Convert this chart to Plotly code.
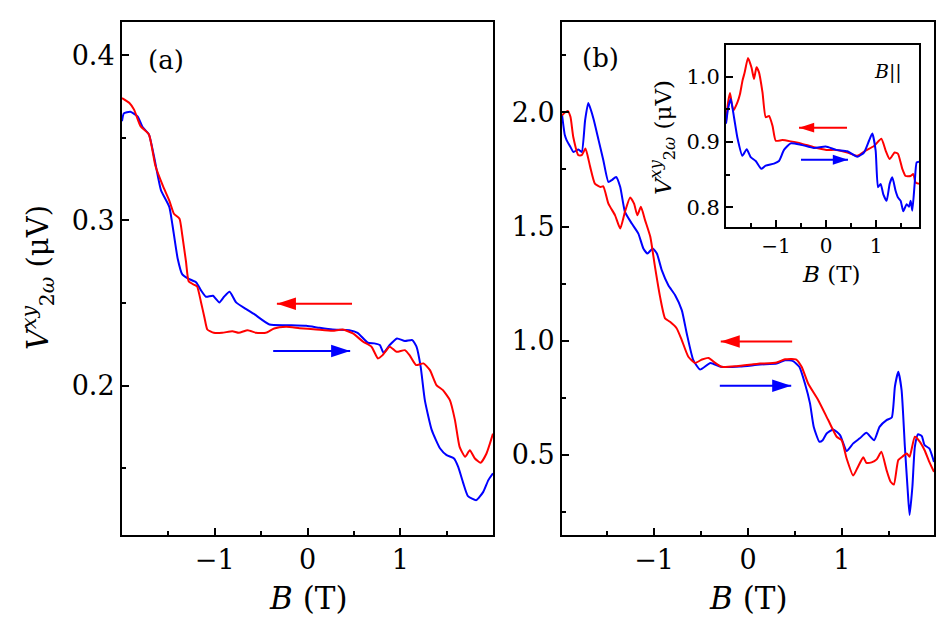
import plotly.graph_objects as go

# ---------------- data ----------------
# Panel (a)
a_red_B = [-2.0, -1.92, -1.87, -1.80, -1.71, -1.64, -1.56, -1.49, -1.44, -1.38, -1.35, -1.31, -1.28,
           -1.22, -1.19, -1.15, -1.11, -1.08, -1.01, -0.92, -0.81, -0.74, -0.645, -0.555, -0.45, -0.36,
           -0.23, -0.086, 0.094, 0.27, 0.38, 0.49, 0.60, 0.69, 0.76, 0.81, 0.886, 0.96, 1.05, 1.10,
           1.17, 1.25, 1.32, 1.39, 1.46, 1.535, 1.59, 1.64, 1.70, 1.75, 1.805, 1.867, 1.93, 2.0]
a_red_V = [0.374, 0.371, 0.367, 0.357, 0.352, 0.333, 0.321, 0.312, 0.304, 0.301, 0.291, 0.275, 0.263,
           0.261, 0.260, 0.251, 0.241, 0.234, 0.232, 0.232, 0.233, 0.232, 0.2336, 0.232, 0.232, 0.2346,
           0.2356, 0.2348, 0.234, 0.2332, 0.234, 0.2316, 0.2266, 0.2236, 0.2165, 0.2185, 0.2236, 0.2205,
           0.2215, 0.2185, 0.2125, 0.2135, 0.2094, 0.2004, 0.1973, 0.1913, 0.1792, 0.163, 0.157, 0.161,
           0.156, 0.1534, 0.159, 0.171]
a_blue_B = [-2.0, -1.98, -1.91, -1.83, -1.78, -1.71, -1.654, -1.58, -1.49, -1.456, -1.40, -1.35, -1.29,
            -1.20, -1.15, -1.095, -1.02, -0.95, -0.90, -0.84, -0.77, -0.66, -0.57, -0.41, -0.23, -0.014,
            0.13, 0.27, 0.45, 0.54, 0.65, 0.72, 0.78, 0.82, 0.886, 0.965, 1.05, 1.13, 1.175, 1.22, 1.265,
            1.34, 1.43, 1.50, 1.58, 1.625, 1.68, 1.73, 1.82, 1.895, 1.95, 2.0]
a_blue_V = [0.360, 0.3647, 0.3657, 0.3627, 0.3566, 0.352, 0.3385, 0.3183, 0.3082, 0.2972, 0.277, 0.2673,
            0.2649, 0.2625, 0.2578, 0.2538, 0.2544, 0.2504, 0.2538, 0.2568, 0.2504, 0.2463, 0.2431, 0.237,
            0.2366, 0.2362, 0.235, 0.234, 0.2336, 0.232, 0.226, 0.2256, 0.2246, 0.2199, 0.2246, 0.2286,
            0.227, 0.2276, 0.2236, 0.2115, 0.1913, 0.1731, 0.162, 0.158, 0.156, 0.1509, 0.1409, 0.1332,
            0.1308, 0.1358, 0.1429, 0.147]

# Panel (b)
b_red_B = [-1.98, -1.92, -1.89, -1.86, -1.805, -1.77, -1.73, -1.68, -1.63, -1.57, -1.54, -1.486, -1.415,
           -1.36, -1.31, -1.255, -1.213, -1.178, -1.14, -1.096, -1.04, -0.99, -0.936, -0.883, -0.83,
           -0.76, -0.705, -0.635, -0.564, -0.49, -0.42, -0.35, -0.28, -0.12, 0.056, 0.128, 0.305, 0.394,
           0.51, 0.571, 0.64, 0.748, 0.854, 0.944, 0.997, 1.05, 1.12, 1.17, 1.227, 1.26, 1.316, 1.37,
           1.42, 1.475, 1.518, 1.553, 1.60, 1.65, 1.69, 1.72, 1.776, 1.83, 1.88, 1.93, 1.98]
b_red_V = [1.987, 2.006, 1.98, 1.892, 1.812, 1.812, 1.841, 1.761, 1.688, 1.673, 1.676, 1.60, 1.549, 1.491,
           1.564, 1.627, 1.60, 1.549, 1.586, 1.528, 1.455, 1.323, 1.192, 1.098, 1.083, 1.055, 1.003, 0.93,
           0.903, 0.918, 0.925, 0.903, 0.886, 0.889, 0.897, 0.90, 0.905, 0.919, 0.919, 0.886, 0.813, 0.74,
           0.653, 0.58, 0.565, 0.485, 0.41, 0.448, 0.49, 0.466, 0.468, 0.481, 0.514, 0.434, 0.383, 0.371,
           0.478, 0.495, 0.507, 0.492, 0.58, 0.558, 0.521, 0.47, 0.426]
b_blue_B = [-1.98, -1.95, -1.93, -1.89, -1.858, -1.805, -1.77, -1.734, -1.70, -1.645, -1.59, -1.54, -1.486,
            -1.45, -1.404, -1.36, -1.31, -1.237, -1.167, -1.114, -1.07, -1.014, -0.97, -0.918, -0.848,
            -0.777, -0.705, -0.652, -0.582, -0.51, -0.40, -0.29, -0.085, 0.128, 0.305, 0.394, 0.48, 0.546,
            0.606, 0.66, 0.70, 0.76, 0.795, 0.837, 0.907, 0.98, 1.05, 1.12, 1.19, 1.26, 1.343, 1.40,
            1.475, 1.53, 1.564, 1.60, 1.635, 1.67, 1.70, 1.72, 1.75, 1.776, 1.81, 1.85, 1.88, 1.93, 1.98]
b_blue_V = [1.99, 1.90, 1.877, 1.848, 1.826, 1.837, 1.826, 1.965, 2.04, 1.972, 1.877, 1.79, 1.695, 1.703,
            1.717, 1.673, 1.564, 1.513, 1.469, 1.404, 1.382, 1.404, 1.382, 1.309, 1.243, 1.20, 1.134, 1.032,
            0.915, 0.874, 0.903, 0.886, 0.887, 0.896, 0.90, 0.915, 0.911, 0.886, 0.813, 0.726, 0.623, 0.558,
            0.565, 0.594, 0.612, 0.587, 0.518, 0.551, 0.573, 0.597, 0.565, 0.623, 0.653, 0.664, 0.80, 0.864,
            0.784, 0.536, 0.346, 0.237, 0.361, 0.536, 0.591, 0.583, 0.543, 0.529, 0.47]

# Inset (B parallel)
i_red_B = [-2.0, -1.96, -1.92, -1.853, -1.77, -1.72, -1.67, -1.626, -1.56, -1.49, -1.44, -1.39, -1.34,
           -1.27, -1.206, -1.14, -1.07, -1.006, -0.873, -0.706, -0.506, -0.24, 0.006, 0.206, 0.426, 0.626,
           0.793, 0.96, 1.107, 1.193, 1.273, 1.373, 1.44, 1.526, 1.593, 1.693, 1.746, 1.793, 1.86]
i_red_V = [0.93, 0.96, 0.975, 0.948, 0.961, 0.9735, 0.994, 1.0067, 1.0286, 1.014, 0.9965, 1.0144, 1.0067,
           0.976, 0.938, 0.940, 0.925, 0.902, 0.903, 0.901, 0.898, 0.892, 0.888, 0.888, 0.884, 0.879,
           0.887, 0.894, 0.905, 0.887, 0.874, 0.884, 0.882, 0.859, 0.848, 0.848, 0.851, 0.838, 0.836]
i_blue_B = [-2.0, -1.96, -1.906, -1.84, -1.773, -1.673, -1.586, -1.506, -1.406, -1.293, -1.206, -1.04,
            -0.94, -0.84, -0.706, -0.506, -0.24, -0.006, 0.206, 0.426, 0.626, 0.76, 0.86, 0.926, 0.993,
            1.04, 1.093, 1.146, 1.213, 1.273, 1.326, 1.393, 1.44, 1.493, 1.546, 1.613, 1.66, 1.693, 1.726,
            1.773, 1.813, 1.86]
i_blue_V = [0.928, 0.9505, 0.966, 0.938, 0.907, 0.879, 0.889, 0.877, 0.871, 0.859, 0.864, 0.867, 0.871,
            0.888, 0.898, 0.896, 0.891, 0.893, 0.888, 0.886, 0.8775, 0.884, 0.902, 0.913, 0.887, 0.831,
            0.836, 0.82, 0.81, 0.836, 0.846, 0.825, 0.815, 0.81, 0.794, 0.805, 0.801, 0.81, 0.795, 0.836,
            0.869, 0.870]

B_ticks = [-1, 0, 1]
B_minor = [-1.5, -0.5, 0.5, 1.5]
a_ticks = [0.2, 0.3, 0.4]
a_minor = [0.15, 0.25, 0.35]
b_ticks = [0.5, 1.0, 1.5, 2.0]
b_minor = [0.25, 0.75, 1.25, 1.75, 2.25]
i_ticks = [0.8, 0.9, 1.0]
i_minor = [0.85, 0.95]

# ---------------- figure ----------------
W, H = 945, 625
RED = "#ff0000"
BLUE = "#0000ff"
FONT = "DejaVu Serif"


def px(p):
    return p / W


def py(p):
    return 1 - p / H


fig = go.Figure()


def curve(x, y, color, xa, ya):
    fig.add_trace(go.Scatter(x=x, y=y, mode="lines", xaxis=xa, yaxis=ya,
                             line=dict(color=color, width=2, shape="spline", smoothing=0.5),
                             showlegend=False, hoverinfo="skip"))


def arrow(x0, x1, y, color, xa, ya, size):
    ang = 90 if x1 > x0 else -90
    fig.add_trace(go.Scatter(x=[x0, x1], y=[y, y], mode="lines", xaxis=xa, yaxis=ya,
                             line=dict(color=color, width=2), showlegend=False, hoverinfo="skip"))
    fig.add_trace(go.Scatter(x=[x1], y=[y], mode="markers", xaxis=xa, yaxis=ya,
                             marker=dict(symbol="arrow", size=size, angle=ang, color=color,
                                         line=dict(width=0)),
                             showlegend=False, hoverinfo="skip"))


curve(a_blue_B, a_blue_V, BLUE, "x", "y")
curve(a_red_B, a_red_V, RED, "x", "y")
curve(b_blue_B, b_blue_V, BLUE, "x2", "y2")
curve(b_red_B, b_red_V, RED, "x2", "y2")
curve(i_red_B, i_red_V, RED, "x3", "y3")
curve(i_blue_B, i_blue_V, BLUE, "x3", "y3")

arrow(0.48, -0.33, 0.2496, RED, "x", "y", 20)
arrow(-0.37, 0.46, 0.221, BLUE, "x", "y", 20)
arrow(0.47, -0.29, 0.997, RED, "x2", "y2", 20)
arrow(-0.30, 0.46, 0.803, BLUE, "x2", "y2", 20)
arrow(0.42, -0.54, 0.922, RED, "x3", "y3", 16)
arrow(-0.50, 0.44, 0.873, BLUE, "x3", "y3", 16)


def axis(domain, rng, tickvals, minorvals, fmt, size, anchor):
    return dict(domain=domain, range=rng, anchor=anchor, tickmode="array", tickvals=tickvals,
                tickformat=fmt, ticks="inside", ticklen=7, tickwidth=1.5, tickcolor="black",
                minor=dict(tickmode="array", tickvals=minorvals, ticks="inside", ticklen=4,
                           tickwidth=1.5, tickcolor="black"),
                showline=True, linecolor="black", linewidth=2, mirror=True, showgrid=False,
                zeroline=False, tickfont=dict(family=FONT, size=size, color="black"),
                fixedrange=True)


ya_dom = [py(535), py(22)]
fig.update_layout(
    width=W, height=H, margin=dict(l=0, r=0, t=0, b=0),
    paper_bgcolor="white", plot_bgcolor="white",
    xaxis=axis([px(122), px(493)], [-2.0, 2.0], B_ticks, B_minor, "d", 27, "y"),
    yaxis=axis(ya_dom, [0.1097, 0.42], a_ticks, a_minor, ".1f", 27, "x"),
    xaxis2=axis([px(562), px(934)], [-1.98, 1.98], B_ticks, B_minor, "d", 27, "y2"),
    yaxis2=axis(ya_dom, [0.15, 2.395], b_ticks, b_minor, ".1f", 27, "x2"),
    xaxis3=axis([px(726), px(919)], [-2.0, 1.86], B_ticks, B_minor, "d", 20, "y3"),
    yaxis3=axis([py(227), py(45)], [0.770, 1.0485], i_ticks, i_minor, ".1f", 21, "x3"),
)

ylab = "<i>V</i><sup><i>xy</i></sup><sub>2<i>ω</i></sub> (μV)"
blab = "<i>B</i> (T)"
ann = [
    dict(x=px(308), y=py(598), text=blab, size=31, angle=0),
    dict(x=px(748), y=py(598), text=blab, size=31, angle=0),
    dict(x=px(38), y=py(278), text=ylab, size=29, angle=-90),
    dict(x=px(831), y=py(274), text=blab, size=23, angle=0),
    dict(x=px(662), y=py(138), text=ylab, size=23, angle=-90),
    dict(x=px(166), y=py(60), text="(a)", size=26, angle=0),
    dict(x=px(600), y=py(58), text="(b)", size=26, angle=0),
    dict(x=px(888), y=py(72), text="<i>B</i>||", size=19, angle=0),
]
for a in ann:
    fig.add_annotation(x=a["x"], y=a["y"], xref="paper", yref="paper", text=a["text"],
                       textangle=a["angle"], showarrow=False, xanchor="center", yanchor="middle",
                       font=dict(family=FONT, size=a["size"], color="black"))

fig.write_html("out.html", config={"displayModeBar": False},
               post_script="document.body.style.margin='0';document.body.style.padding='0';"
                           "document.body.style.overflow='hidden';")
